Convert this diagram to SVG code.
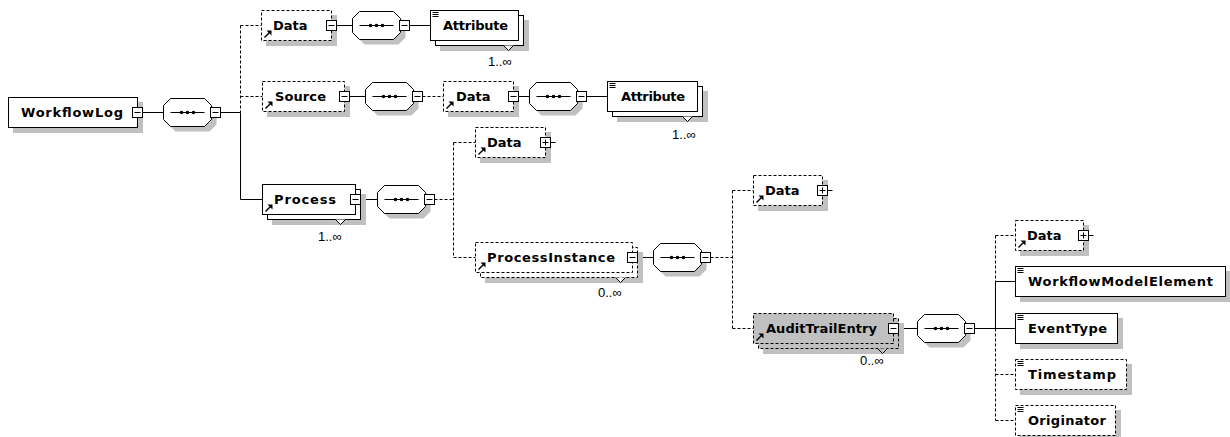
<svg xmlns="http://www.w3.org/2000/svg" xmlns:xlink="http://www.w3.org/1999/xlink" width="1230" height="437" viewBox="0 0 1230 437">
<defs>
<style>
.bx{fill:#fff;stroke:#000;stroke-width:1}
.dx{fill:#fff;stroke:#000;stroke-width:1;stroke-dasharray:3 2}
.gx{fill:#c0c0c0;stroke:#000;stroke-width:1;stroke-dasharray:3 2}
.sh{fill:#c0c0c0}
.ln{stroke:#000;stroke-width:1;fill:none}
.dl{stroke:#000;stroke-width:1;fill:none;stroke-dasharray:3 2}
.lbl{font-family:"DejaVu Sans","Liberation Sans",sans-serif;font-weight:bold;font-size:13px;fill:#000}
.occ{font-family:"Liberation Sans",Arial,sans-serif;font-size:13px;fill:#000}
</style>
<g id="seq">
<polygon class="sh" points="12,5 46,5 53,12 53,26 46,33 12,33 5,26 5,12"/>
<polygon class="bx" points="7,0 41,0 48,7 48,21 41,28 7,28 0,21 0,7"/>
<line class="ln" x1="7" y1="14" x2="41" y2="14"/>
<circle cx="18" cy="14" r="1.8" fill="#000"/>
<circle cx="24" cy="14" r="1.8" fill="#000"/>
<circle cx="30" cy="14" r="1.8" fill="#000"/>
<rect class="bx" x="47" y="9" width="10" height="10"/>
<line class="ln" x1="49" y1="14" x2="55" y2="14"/>
</g>
<g id="minus"><rect class="bx" x="-5" y="-5" width="10" height="10"/><line class="ln" x1="-3" y1="0" x2="3" y2="0"/></g>
<g id="plus"><rect class="bx" x="-5" y="-5" width="10" height="10"/><path class="ln" d="M-3 0H3M0 -3V3M5 0H10"/></g>
<g id="ref"><line x1="0" y1="0" x2="5" y2="-5" stroke="#000" stroke-width="1.5"/><polygon points="7,-7 2,-7 7,-2" fill="#000"/></g>
<g id="simple"><path class="ln" d="M2 2H8M2 4H8M2 6H8"/></g>
<polyline id="notch" points="-5,0 0,5 5,0" fill="#fff" stroke="#000" stroke-width="1"/>
<polyline id="notchg" points="-5,0 0,5 5,0" fill="#c0c0c0" stroke="#000" stroke-width="1"/>
</defs>

<g id="connectors">
<path class="ln" d="M142.5 112.5H163.5M220.5 112.5H240.5M240.5 112.5V199.5M240.5 199.5H262.5M336.5 25.5H352.5M409.5 25.5H430.5M349.5 96.5H365.5M518.5 96.5H529.5M586.5 96.5H607.5M360.5 199.5H377.5M637.5 257.5H653.5M898.5 328.5H917.5M974.5 328.5H1015.5M995.5 281.5V328.5M995.5 281.5H1015.5"/>
<path class="dl" d="M240.5 25.5V112.5M240.5 25.5H261.5M240.5 96.5H262.5M422.5 96.5H443.5M434.5 199.5H453.5M453.5 142.5V257.5M453.5 142.5H475.5M453.5 257.5H475.5M710.5 257.5H732.5M732.5 190.5V328.5M732.5 190.5H753.5M732.5 328.5H753.5M995.5 235.5V281.5M995.5 328.5V420.5M995.5 235.5H1015.5M995.5 374.5H1015.5M995.5 420.5H1015.5"/>
</g>

<g id="WorkflowLog">
<rect class="sh" x="13" y="102" width="130" height="31"/>
<rect class="bx" x="8.5" y="97.5" width="129" height="30"/>
<text class="lbl" x="21" y="117" textLength="102">WorkflowLog</text>
<use xlink:href="#minus" x="137.5" y="112.5"/>
</g>
<g id="seq-WorkflowLog"><use xlink:href="#seq" x="163.5" y="98.5"/></g>

<g id="Data-1">
<rect class="sh" x="266" y="15" width="71" height="31"/>
<rect class="dx" x="261.5" y="10.5" width="70" height="30"/>
<use xlink:href="#ref" x="264.5" y="37.5"/>
<text class="lbl" x="273" y="30">Data</text>
<use xlink:href="#minus" x="331.5" y="25.5"/>
</g>
<g id="seq-Data-1"><use xlink:href="#seq" x="352.5" y="11.5"/></g>
<g id="Attribute-1">
<rect class="sh" x="440" y="20" width="89" height="31"/>
<rect class="bx" x="435.5" y="15.5" width="88" height="30"/>
<use xlink:href="#notch" x="508.5" y="45.5"/>
<rect class="bx" x="430.5" y="10.5" width="88" height="30"/>
<use xlink:href="#simple" x="430.5" y="10.5"/>
<text class="lbl" x="443" y="30" textLength="65">Attribute</text>
<text class="occ" x="488" y="66">1..∞</text>
</g>

<g id="Source">
<rect class="sh" x="267" y="86" width="83" height="31"/>
<rect class="dx" x="262.5" y="81.5" width="82" height="30"/>
<use xlink:href="#ref" x="265.5" y="108.5"/>
<text class="lbl" x="275" y="101" textLength="51">Source</text>
<use xlink:href="#minus" x="344.5" y="96.5"/>
</g>
<g id="seq-Source"><use xlink:href="#seq" x="365.5" y="82.5"/></g>
<g id="Data-2">
<rect class="sh" x="448" y="86" width="71" height="31"/>
<rect class="dx" x="443.5" y="81.5" width="70" height="30"/>
<use xlink:href="#ref" x="446.5" y="108.5"/>
<text class="lbl" x="456" y="101">Data</text>
<use xlink:href="#minus" x="513.5" y="96.5"/>
</g>
<g id="seq-Data-2"><use xlink:href="#seq" x="529.5" y="82.5"/></g>
<g id="Attribute-2">
<rect class="sh" x="617" y="91" width="91" height="31"/>
<rect class="bx" x="612.5" y="86.5" width="90" height="30"/>
<use xlink:href="#notch" x="687.5" y="116.5"/>
<rect class="bx" x="607.5" y="81.5" width="90" height="30"/>
<use xlink:href="#simple" x="607.5" y="81.5"/>
<text class="lbl" x="621" y="101" textLength="64">Attribute</text>
<text class="occ" x="672" y="139">1..∞</text>
</g>

<g id="Process">
<rect class="sh" x="272" y="194" width="94" height="31"/>
<rect class="bx" x="267.5" y="189.5" width="93" height="30"/>
<use xlink:href="#notch" x="340.5" y="219.5"/>
<rect class="bx" x="262.5" y="184.5" width="93" height="30"/>
<use xlink:href="#ref" x="265.5" y="211.5"/>
<text class="lbl" x="274" y="204" textLength="62">Process</text>
<use xlink:href="#minus" x="355.5" y="199.5"/>
<text class="occ" x="318" y="241">1..∞</text>
</g>
<g id="seq-Process"><use xlink:href="#seq" x="377.5" y="185.5"/></g>

<g id="Data-3">
<rect class="sh" x="480" y="132" width="71" height="31"/>
<rect class="dx" x="475.5" y="127.5" width="70" height="30"/>
<use xlink:href="#ref" x="478.5" y="154.5"/>
<text class="lbl" x="487" y="147">Data</text>
<use xlink:href="#plus" x="545.5" y="142.5"/>
</g>

<g id="ProcessInstance">
<rect class="sh" x="485" y="252" width="158" height="31"/>
<rect class="dx" x="480.5" y="247.5" width="157" height="30"/>
<use xlink:href="#notch" x="620.5" y="277.5"/>
<rect class="dx" x="475.5" y="242.5" width="157" height="30"/>
<use xlink:href="#ref" x="478.5" y="269.5"/>
<text class="lbl" x="487" y="262" textLength="128">ProcessInstance</text>
<use xlink:href="#minus" x="632.5" y="257.5"/>
<text class="occ" x="598" y="297">0..∞</text>
</g>
<g id="seq-ProcessInstance"><use xlink:href="#seq" x="653.5" y="243.5"/></g>

<g id="Data-4">
<rect class="sh" x="758" y="180" width="70" height="31"/>
<rect class="dx" x="753.5" y="175.5" width="69" height="30"/>
<use xlink:href="#ref" x="756.5" y="202.5"/>
<text class="lbl" x="765" y="195">Data</text>
<use xlink:href="#plus" x="822.5" y="190.5"/>
</g>

<g id="AuditTrailEntry">
<rect class="sh" x="763" y="323" width="141" height="31"/>
<rect class="gx" x="758.5" y="318.5" width="140" height="30"/>
<use xlink:href="#notchg" x="882.5" y="348.5"/>
<rect class="gx" x="753.5" y="313.5" width="140" height="30"/>
<use xlink:href="#ref" x="756.5" y="340.5"/>
<text class="lbl" x="766" y="333" textLength="111">AuditTrailEntry</text>
<use xlink:href="#minus" x="893.5" y="328.5"/>
<text class="occ" x="860" y="365">0..∞</text>
</g>
<g id="seq-AuditTrailEntry"><use xlink:href="#seq" x="917.5" y="314.5"/></g>

<g id="Data-5">
<rect class="sh" x="1020" y="225" width="69" height="31"/>
<rect class="dx" x="1015.5" y="220.5" width="68" height="30"/>
<use xlink:href="#ref" x="1018.5" y="247.5"/>
<text class="lbl" x="1027" y="240">Data</text>
<use xlink:href="#plus" x="1083.5" y="235.5"/>
</g>

<g id="WorkflowModelElement">
<rect class="sh" x="1020" y="271" width="211" height="31"/>
<rect class="bx" x="1015.5" y="266.5" width="210" height="30"/>
<use xlink:href="#simple" x="1015.5" y="266.5"/>
<text class="lbl" x="1028" y="286" textLength="185">WorkflowModelElement</text>
</g>

<g id="EventType">
<rect class="sh" x="1020" y="318" width="103" height="31"/>
<rect class="bx" x="1015.5" y="313.5" width="102" height="30"/>
<use xlink:href="#simple" x="1015.5" y="313.5"/>
<text class="lbl" x="1028" y="333" textLength="79">EventType</text>
</g>

<g id="Timestamp">
<rect class="sh" x="1020" y="364" width="112" height="31"/>
<rect class="dx" x="1015.5" y="359.5" width="111" height="30"/>
<use xlink:href="#simple" x="1015.5" y="359.5"/>
<text class="lbl" x="1028" y="379" textLength="88">Timestamp</text>
</g>

<g id="Originator">
<rect class="sh" x="1020" y="410" width="101" height="31"/>
<rect class="dx" x="1015.5" y="405.5" width="100" height="30"/>
<use xlink:href="#simple" x="1015.5" y="405.5"/>
<text class="lbl" x="1028" y="425" textLength="78">Originator</text>
</g>
</svg>
